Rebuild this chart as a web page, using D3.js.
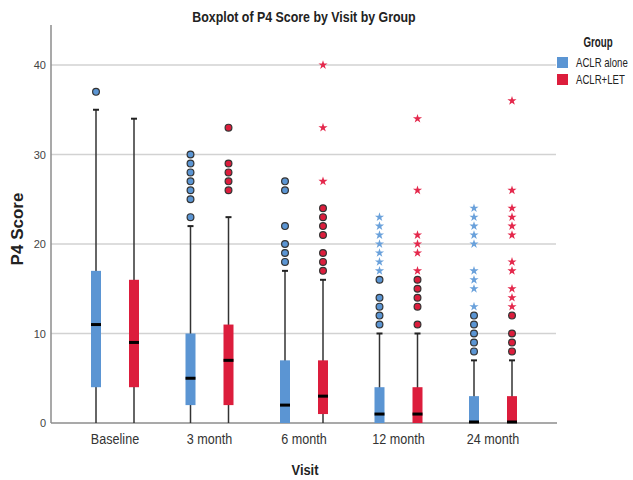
<!DOCTYPE html>
<html>
<head>
<meta charset="utf-8">
<script src="https://cdn.jsdelivr.net/npm/d3@7"></script>
<style>
  body { margin: 0; background: #fff; }
  text { font-family: "Liberation Sans", Arial, sans-serif; }
</style>
</head>
<body>
<div id="chart"></div>
<script>
const visits = ["Baseline", "3 month", "6 month", "12 month", "24 month"];
const groups = ["ACLR alone", "ACLR+LET"];
const yTicks = [0, 10, 20, 30, 40];

// [whisker low, Q1, median, Q3, whisker high] per visit
const aloneStats = [[0, 4, 11, 17, 35], [0, 2, 5, 10, 22], [0, 0, 2, 7, 17], [0, 0, 1, 4, 10], [0, 0, 0, 3, 7]];
const letStats = [[0, 4, 9, 16, 34], [0, 2, 7, 11, 23], [0, 1, 3, 7, 16], [0, 0, 1, 4, 10], [0, 0, 0, 3, 7]];

// outliers (circles) and extremes (stars)
const aloneOutliers = [[37], [23, 25, 26, 27, 28, 29, 30], [18, 19, 20, 22, 26, 27], [11, 12, 13, 14, 16], [8, 9, 10, 11, 12]];
const aloneExtremes = [[], [], [], [17, 18, 19, 20, 21, 22, 23], [13, 15, 16, 17, 20, 21, 22, 23, 24]];
const letOutliers = [[], [26, 27, 28, 29, 33], [17, 18, 19, 21, 22, 23, 24], [11, 13, 14, 15, 16], [8, 9, 10, 12]];
const letExtremes = [[], [], [27, 33, 40], [17, 19, 20, 21, 26, 34], [13, 14, 15, 17, 18, 21, 22, 23, 24, 26, 36]];

const W = 633, H = 480;
const svg = d3.select("#chart").append("svg").attr("width", W).attr("height", H);

const x = d3.scaleBand().domain(visits).range([67.75, 540.25]);
const xg = d3.scalePoint().domain(groups).range([-19, 19]);
const y = d3.scaleLinear().domain([0, 40]).range([423, 65]);
const color = d3.scaleOrdinal().domain(groups).range(["#5b95d3", "#dc1d3c"]);
const starColor = d3.scaleOrdinal().domain(groups).range(["#6aa1db", "#e4284c"]);

const axisLeft = 51, axisRight = 557, axisTop = 25;

// === Gridlines ===
svg.append("g")
  .selectAll("line")
  .data(yTicks.filter((d) => d > 0))
  .enter()
  .append("line")
  .attr("x1", axisLeft)
  .attr("x2", axisRight - 1)
  .attr("y1", (d) => y(d))
  .attr("y2", (d) => y(d))
  .attr("stroke", "#d2d2d2")
  .attr("stroke-width", 1.5);

// === Axes ===
svg.append("line")
  .attr("x1", axisLeft).attr("x2", axisLeft)
  .attr("y1", axisTop).attr("y2", y(0))
  .attr("stroke", "#8c8c8c").attr("stroke-width", 1.5);
svg.append("line")
  .attr("x1", axisLeft).attr("x2", axisRight)
  .attr("y1", y(0)).attr("y2", y(0))
  .attr("stroke", "#8c8c8c").attr("stroke-width", 1.5);

svg.append("g")
  .selectAll("text")
  .data(yTicks)
  .enter()
  .append("text")
  .attr("x", 46)
  .attr("y", (d) => y(d) + 4)
  .attr("text-anchor", "end")
  .style("font-size", "11px")
  .style("fill", "#444")
  .text((d) => d);

svg.append("g")
  .selectAll("text")
  .data(visits)
  .enter()
  .append("text")
  .attr("transform", (d) => `translate(${x(d) + x.bandwidth() / 2},444) scale(0.84,1)`)
  .attr("text-anchor", "middle")
  .style("font-size", "15px")
  .style("fill", "#333")
  .text((d) => d);

// === Boxes ===
const boxW = 10;
const series = [
  { group: groups[0], stats: aloneStats, outliers: aloneOutliers, extremes: aloneExtremes },
  { group: groups[1], stats: letStats, outliers: letOutliers, extremes: letExtremes }
];

const boxData = [];
const pointData = [];
series.forEach((s) => {
  visits.forEach((v, i) => {
    const cx = x(v) + x.bandwidth() / 2 + xg(s.group);
    const [lo, q1, med, q3, hi] = s.stats[i];
    boxData.push({ group: s.group, cx, lo, q1, med, q3, hi });
    s.outliers[i].forEach((val) => pointData.push({ group: s.group, cx, val, kind: "circle" }));
    s.extremes[i].forEach((val) => pointData.push({ group: s.group, cx, val, kind: "star" }));
  });
});

const boxes = svg.append("g").selectAll("g").data(boxData).enter().append("g");

boxes.append("line")
  .attr("x1", (d) => d.cx).attr("x2", (d) => d.cx)
  .attr("y1", (d) => y(d.lo)).attr("y2", (d) => y(d.hi))
  .attr("stroke", "#333").attr("stroke-width", 1.5);

boxes.append("line")
  .attr("x1", (d) => d.cx - 3).attr("x2", (d) => d.cx + 3)
  .attr("y1", (d) => y(d.hi)).attr("y2", (d) => y(d.hi))
  .attr("stroke", "#222").attr("stroke-width", 2);

boxes.append("rect")
  .attr("x", (d) => d.cx - boxW / 2)
  .attr("width", boxW)
  .attr("y", (d) => y(d.q3))
  .attr("height", (d) => y(d.q1) - y(d.q3))
  .attr("fill", (d) => color(d.group));

boxes.append("line")
  .attr("x1", (d) => d.cx - boxW / 2).attr("x2", (d) => d.cx + boxW / 2)
  .attr("y1", (d) => y(d.med) - (d.med === 0 ? 1 : 0))
  .attr("y2", (d) => y(d.med) - (d.med === 0 ? 1 : 0))
  .attr("stroke", "#000").attr("stroke-width", 3);

// === Outliers ===
const pts = svg.append("g");
pts.selectAll("circle")
  .data(pointData.filter((d) => d.kind === "circle"))
  .enter()
  .append("circle")
  .attr("cx", (d) => d.cx)
  .attr("cy", (d) => y(d.val))
  .attr("r", 3.4)
  .attr("fill", (d) => color(d.group))
  .attr("stroke", "#333")
  .attr("stroke-width", 1.2);

const star = d3.symbol().type(d3.symbolStar).size(26);
pts.selectAll("path")
  .data(pointData.filter((d) => d.kind === "star"))
  .enter()
  .append("path")
  .attr("d", star)
  .attr("transform", (d) => `translate(${d.cx},${y(d.val)})`)
  .attr("fill", (d) => starColor(d.group));

// === Titles ===
svg.append("text")
  .attr("transform", "translate(304,22) scale(0.8,1)")
  .attr("text-anchor", "middle")
  .style("font-size", "15.5px")
  .style("font-weight", "bold")
  .style("fill", "#222")
  .text("Boxplot of P4 Score by Visit by Group");

svg.append("text")
  .attr("transform", "translate(305,475) scale(0.92,1)")
  .attr("text-anchor", "middle")
  .style("font-size", "14px")
  .style("font-weight", "bold")
  .style("fill", "#222")
  .text("Visit");

svg.append("text")
  .attr("transform", "translate(23,229) rotate(-90)")
  .attr("text-anchor", "middle")
  .style("font-size", "17px")
  .style("font-weight", "bold")
  .style("fill", "#222")
  .text("P4 Score");

// === Legend ===
const legend = svg.append("g");
legend.append("text")
  .attr("transform", "translate(598,47) scale(0.65,1)")
  .attr("text-anchor", "middle")
  .style("font-size", "15px")
  .style("font-weight", "bold")
  .style("fill", "#222")
  .text("Group");

groups.forEach((g, i) => {
  const row = legend.append("g").attr("transform", `translate(557, ${57 + i * 17})`);
  row.append("rect").attr("width", 11).attr("height", 11).attr("fill", color(g));
  row.append("text")
    .attr("transform", "translate(19,9.5) scale(0.8,1)")
    .style("font-size", "12px")
    .style("fill", "#222")
    .text(g);
});
</script>
</body>
</html>
